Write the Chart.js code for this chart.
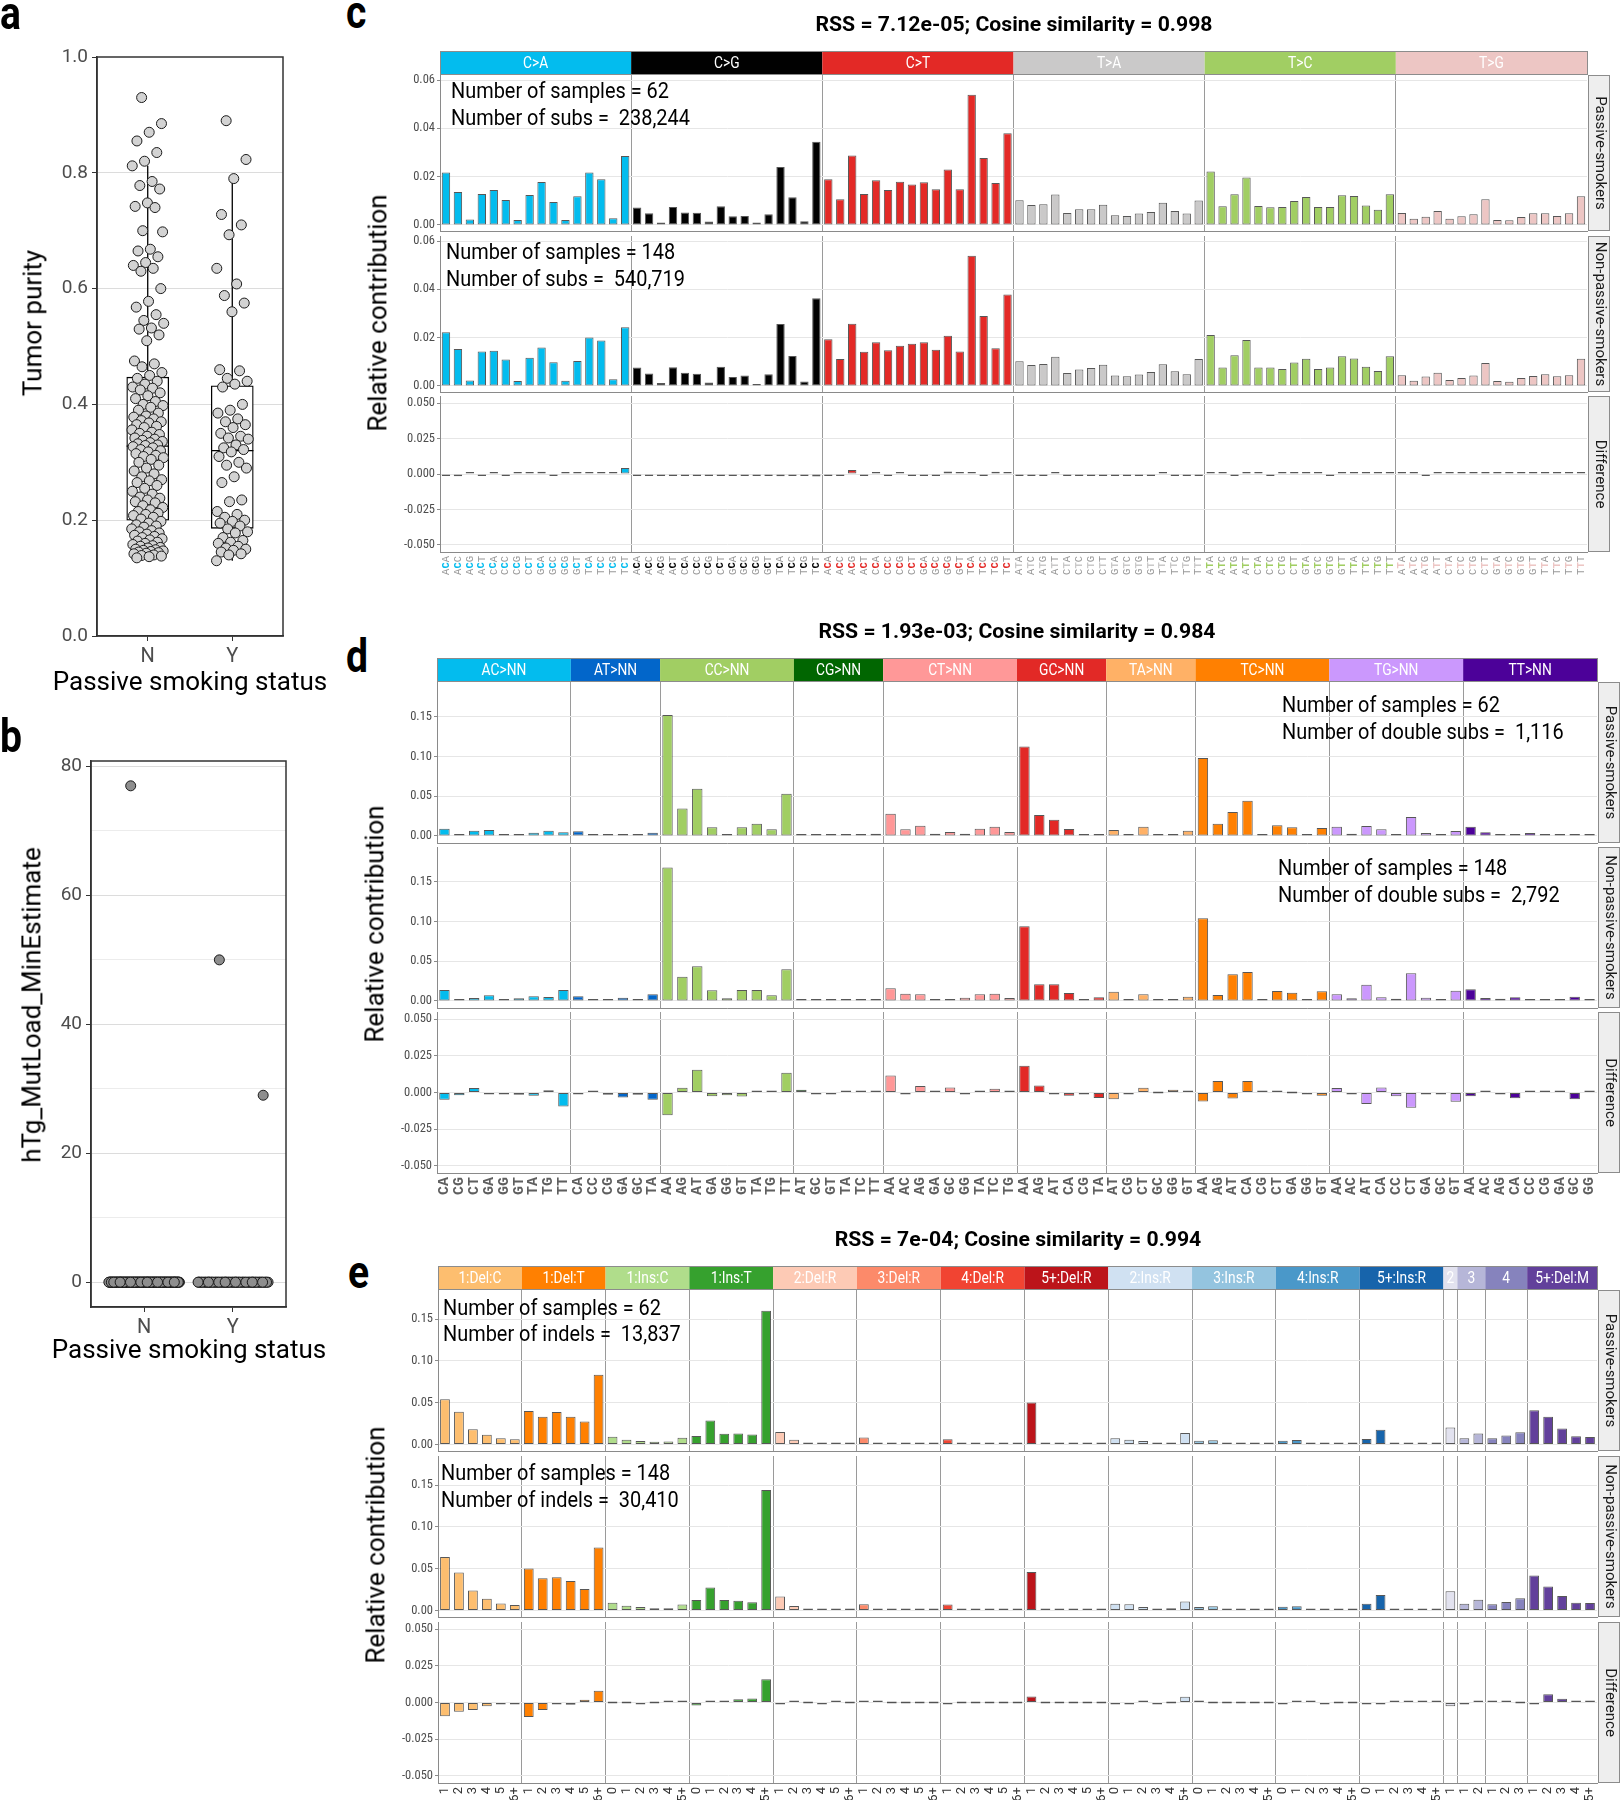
<!DOCTYPE html>
<html>
<head>
<meta charset="utf-8">
<title>Passive smoking – purity, load and mutational profiles</title>
<script src="https://cdn.jsdelivr.net/npm/chart.js@4.4.1/dist/chart.umd.min.js"></script>
<style>
  html, body { margin: 0; padding: 0; background: #fff; overflow: hidden; }
  #page { position: relative; width: 1621px; height: 1800px; overflow: hidden; background: #fff; }
  #page canvas { position: absolute; }
  .t { position: absolute; white-space: pre; line-height: 1.2; color: #000; }
</style>
</head>
<body>
<div id="page"></div>
<script>
// ---------- panel a: tumour purity ----------
const smokingCats = ['N', 'Y'];
const purityN = [
  0.930, 0.885, 0.870, 0.855, 0.835, 0.820, 0.812, 0.785, 0.778, 0.772, 0.748, 0.742, 0.740, 0.700, 0.698, 0.668, 0.665, 0.655, 0.645,
  0.640, 0.635, 0.630, 0.600, 0.578, 0.568, 0.555, 0.545, 0.540, 0.532, 0.530, 0.520, 0.510, 0.475, 0.470, 0.465, 0.455, 0.450,
  0.445, 0.440, 0.435, 0.430, 0.428, 0.425, 0.420, 0.415, 0.410, 0.405, 0.400, 0.398, 0.395, 0.390, 0.385, 0.380, 0.378, 0.375,
  0.372, 0.370, 0.368, 0.365, 0.362, 0.360, 0.356, 0.352, 0.350, 0.348, 0.345, 0.342, 0.340, 0.338, 0.336, 0.334, 0.332, 0.330, 0.329,
  0.327, 0.325, 0.322, 0.320, 0.318, 0.315, 0.312, 0.310, 0.308, 0.305, 0.300, 0.295, 0.290, 0.285, 0.280, 0.275, 0.270, 0.268, 0.265,
  0.260, 0.255, 0.250, 0.245, 0.240, 0.238, 0.235, 0.232, 0.230, 0.225, 0.222, 0.218, 0.215, 0.212, 0.210, 0.208, 0.205, 0.202,
  0.198, 0.195, 0.192, 0.190, 0.188, 0.185, 0.182, 0.180, 0.178, 0.176, 0.174, 0.172, 0.170, 0.168, 0.166, 0.164, 0.162, 0.160, 0.158,
  0.156, 0.155, 0.153, 0.152, 0.150, 0.149, 0.148, 0.147, 0.146, 0.145, 0.144, 0.143, 0.142, 0.140, 0.139, 0.138, 0.137, 0.135
];
const purityY = [
  0.890, 0.823, 0.790, 0.728, 0.710, 0.693, 0.635, 0.608, 0.588, 0.575, 0.560, 0.460, 0.458, 0.445, 0.440,
  0.435, 0.430, 0.400, 0.390, 0.385, 0.375, 0.370, 0.365, 0.360, 0.350, 0.345, 0.342, 0.340, 0.330, 0.325, 0.322,
  0.318, 0.310, 0.300, 0.295, 0.290, 0.275, 0.265, 0.235, 0.232, 0.215, 0.210, 0.205, 0.200, 0.198, 0.195, 0.190,
  0.185, 0.180, 0.178, 0.170, 0.165, 0.162, 0.160, 0.155, 0.152, 0.150, 0.148, 0.145, 0.142, 0.140, 0.130
];
// lower whisker, q1, median, q3, upper whisker
const purityBoxN = [0.135, 0.200, 0.328, 0.447, 0.812];
const purityBoxY = [0.130, 0.186, 0.320, 0.432, 0.790];
const purityTicks = [0, 0.2, 0.4, 0.6, 0.8, 1.0];

// ---------- panel b: hTg mutation load ----------
const mutLoadN = [77,
  0,0,0,0,0,0,0,0,0,0,0,0,0,0,0,0,0,0,0,0,0,
  0,0,0,0,0,0,0,0,0,0,0,0,0,0,0,0,0,0,0,0,0,
  0,0,0,0,0,0,0,0,0,0,0,0,0,0,0,0,0,0,0,0,0,
  0,0,0,0,0,0,0,0,0,0,0,0,0,0,0,0,0,0,0,0,0,
  0,0,0,0,0,0,0,0,0,0,0,0,0,0,0,0,0,0,0,0,0,
  0,0,0,0,0,0,0,0,0,0,0,0,0,0,0,0,0,0,0,0,0,
  0,0,0,0,0,0,0,0,0,0,0,0,0,0,0,0,0,0,0,0,0];
const mutLoadY = [50, 29,
  0,0,0,0,0,0,0,0,0,0,0,0,0,0,0,0,0,0,0,0,
  0,0,0,0,0,0,0,0,0,0,0,0,0,0,0,0,0,0,0,0,
  0,0,0,0,0,0,0,0,0,0,0,0,0,0,0,0,0,0,0,0];
const mutLoadTicks = [0, 10, 20, 30, 40, 50, 60, 70, 80];

// ---------- panel c: SBS96 ----------
const sbsTypes = ['C>A', 'C>G', 'C>T', 'T>A', 'T>C', 'T>G'];
const sbsColors = ['#03BCEE', '#010101', '#E32926', '#CAC9C9', '#A1CE63', '#EDC6C4'];
const sbsCtxC = ['ACA','ACC','ACG','ACT','CCA','CCC','CCG','CCT','GCA','GCC','GCG','GCT','TCA','TCC','TCG','TCT'];
const sbsCtxT = ['ATA','ATC','ATG','ATT','CTA','CTC','CTG','CTT','GTA','GTC','GTG','GTT','TTA','TTC','TTG','TTT'];
const sbsPassive = [
  [0.0217,0.0137,0.0023,0.0128,0.0145,0.0103,0.0021,0.0124,0.0178,0.0095,0.0021,0.0119,0.0217,0.0189,0.0028,0.0286],
  [0.0072,0.0048,0.0010,0.0074,0.0052,0.0051,0.0014,0.0077,0.0036,0.0037,0.0010,0.0044,0.0240,0.0115,0.0015,0.0345],
  [0.0189,0.0106,0.0288,0.0128,0.0185,0.0145,0.0179,0.0168,0.0177,0.0148,0.0230,0.0148,0.0539,0.0277,0.0174,0.0380],
  [0.0102,0.0083,0.0086,0.0126,0.0050,0.0065,0.0065,0.0084,0.0040,0.0037,0.0047,0.0054,0.0092,0.0058,0.0047,0.0101],
  [0.0221,0.0077,0.0127,0.0197,0.0079,0.0073,0.0074,0.0099,0.0116,0.0074,0.0074,0.0123,0.0120,0.0081,0.0063,0.0127],
  [0.0050,0.0026,0.0034,0.0058,0.0026,0.0036,0.0044,0.0106,0.0021,0.0019,0.0033,0.0048,0.0048,0.0037,0.0048,0.0119]
];
const sbsNonPassive = [
  [0.0222,0.0153,0.0023,0.0143,0.0146,0.0110,0.0021,0.0117,0.0159,0.0098,0.0022,0.0103,0.0201,0.0188,0.0028,0.0243],
  [0.0076,0.0052,0.0012,0.0077,0.0055,0.0051,0.0014,0.0080,0.0037,0.0043,0.0008,0.0048,0.0257,0.0124,0.0018,0.0363],
  [0.0193,0.0112,0.0258,0.0142,0.0181,0.0148,0.0167,0.0175,0.0181,0.0150,0.0208,0.0143,0.0539,0.0290,0.0156,0.0379],
  [0.0102,0.0087,0.0091,0.0121,0.0054,0.0068,0.0074,0.0088,0.0043,0.0040,0.0047,0.0058,0.0090,0.0061,0.0048,0.0112],
  [0.0211,0.0076,0.0127,0.0190,0.0076,0.0076,0.0070,0.0097,0.0113,0.0070,0.0076,0.0123,0.0114,0.0080,0.0062,0.0123],
  [0.0044,0.0022,0.0039,0.0055,0.0025,0.0033,0.0043,0.0095,0.0021,0.0017,0.0033,0.0041,0.0048,0.0040,0.0044,0.0113]
];
const sbsDiff = [
  [-0.0002,-0.0015,0.0003,-0.0014,0.0003,-0.0006,0.0001,0.0007,0.0015,-0.0004,0.0001,0.0013,0.0013,0.0002,0.0002,0.0042],
  [-0.0003,-0.0003,-0.0002,-0.0003,-0.0003,-0.0002,-0.0002,-0.0003,-0.0002,-0.0003,-0.0002,-0.0004,-0.0015,-0.0010,-0.0003,-0.0018],
  [-0.0003,-0.0004,0.0028,-0.0014,0.0004,-0.0003,0.0010,-0.0007,-0.0003,-0.0003,0.0018,0.0005,0.0001,-0.0012,0.0016,0.0001],
  [-0.0002,-0.0004,-0.0005,0.0004,-0.0004,-0.0003,-0.0005,-0.0004,-0.0003,-0.0003,-0.0002,-0.0004,0.0002,-0.0003,-0.0002,-0.0011],
  [0.0010,0.0002,-0.0003,0.0005,0.0002,-0.0008,0.0004,0.0003,0.0003,0.0002,-0.0002,0.0002,0.0003,0.0001,0.0001,0.0003],
  [0.0004,0.0003,-0.0004,0.0003,0.0001,0.0002,0.0001,0.0010,0.0001,0.0002,0.0002,0.0004,0.0001,0.0002,0.0004,0.0005]
];
const sbsTicks = [0, 0.02, 0.04, 0.06];
const diffTicks = [-0.05, -0.025, 0, 0.025, 0.05];

// ---------- panel d: DBS78 ----------
const dbsTypes = ['AC>NN','AT>NN','CC>NN','CG>NN','CT>NN','GC>NN','TA>NN','TC>NN','TG>NN','TT>NN'];
const dbsColors = ['#03BCEE','#0266CA','#A1CE63','#016601','#FF9898','#E22926','#FFB166','#FF8001','#CB98FD','#4C0199'];
const dbsCtx = [
  ['CA','CG','CT','GA','GG','GT','TA','TG','TT'],
  ['CA','CC','CG','GA','GC','TA'],
  ['AA','AG','AT','GA','GG','GT','TA','TG','TT'],
  ['AT','GC','GT','TA','TC','TT'],
  ['AA','AC','AG','GA','GC','GG','TA','TC','TG'],
  ['AA','AG','AT','CA','CG','TA'],
  ['AT','CG','CT','GC','GG','GT'],
  ['AA','AG','AT','CA','CG','CT','GA','GG','GT'],
  ['AA','AC','AT','CA','CC','CT','GA','GC','GT'],
  ['AA','AC','AG','CA','CC','CG','GA','GC','GG']
];
const dbsPassive = [
  [0.0092,0.0004,0.0067,0.0075,0.0004,0.0021,0.0042,0.0067,0.0046],
  [0.0059,0.0021,0.0004,0.0013,0.0004,0.0042],
  [0.1520,0.0344,0.0595,0.0109,0.0013,0.0109,0.0155,0.0084,0.0532],
  [0.0021,0.0004,0.0004,0.0013,0.0021,0.0029],
  [0.0281,0.0084,0.0130,0.0029,0.0050,0.0029,0.0092,0.0117,0.0050],
  [0.1123,0.0264,0.0205,0.0088,0.0004,0.0008],
  [0.0075,0.0004,0.0117,0.0004,0.0021,0.0067],
  [0.0980,0.0155,0.0302,0.0444,0.0021,0.0134,0.0109,0.0008,0.0100],
  [0.0117,0.0029,0.0126,0.0084,0.0004,0.0239,0.0038,0.0008,0.0063],
  [0.0117,0.0046,0.0017,0.0008,0.0038,0.0017,0.0025,0.0008,0.0008]
];
const dbsNonPassive = [
  [0.0138,0.0017,0.0038,0.0071,0.0013,0.0034,0.0059,0.0050,0.0138],
  [0.0059,0.0017,0.0017,0.0042,0.0017,0.0084],
  [0.1676,0.0306,0.0436,0.0134,0.0034,0.0138,0.0138,0.0071,0.0398],
  [0.0004,0.0004,0.0004,0.0004,0.0017,0.0021],
  [0.0159,0.0092,0.0084,0.0025,0.0008,0.0042,0.0084,0.0092,0.0038],
  [0.0939,0.0210,0.0210,0.0100,0.0004,0.0046],
  [0.0117,0.0004,0.0084,0.0004,0.0004,0.0054],
  [0.1039,0.0075,0.0335,0.0365,0.0013,0.0126,0.0105,0.0017,0.0121],
  [0.0084,0.0034,0.0205,0.0046,0.0029,0.0348,0.0042,0.0021,0.0130],
  [0.0147,0.0038,0.0029,0.0046,0.0025,0.0004,0.0017,0.0054,0.0004]
];
const dbsDiff = [
  [-0.0050,-0.0018,0.0030,-0.0005,-0.0009,-0.0016,-0.0023,0.0016,-0.0096],
  [-0.0004,0.0004,-0.0016,-0.0034,-0.0016,-0.0050],
  [-0.0156,0.0032,0.0156,-0.0025,-0.0018,-0.0028,0.0014,0.0014,0.0135],
  [0.0018,-0.0005,-0.0005,0.0009,0.0009,0.0009],
  [0.0117,-0.0009,0.0044,0.0004,0.0034,-0.0014,0.0004,0.0025,0.0009],
  [0.0183,0.0048,-0.0005,-0.0023,-0.0002,-0.0037],
  [-0.0046,-0.0009,0.0032,0.0000,0.0018,0.0009],
  [-0.0062,0.0078,-0.0041,0.0078,0.0007,0.0009,0.0000,-0.0005,-0.0023],
  [0.0030,-0.0009,-0.0078,0.0034,-0.0025,-0.0105,-0.0005,-0.0005,-0.0064],
  [-0.0025,0.0009,-0.0011,-0.0039,0.0011,0.0014,0.0009,-0.0046,0.0002]
];
const dbsTicks = [0, 0.05, 0.10, 0.15];

// ---------- panel e: ID83 ----------
const idTypes = ['1:Del:C','1:Del:T','1:Ins:C','1:Ins:T','2:Del:R','3:Del:R','4:Del:R','5+:Del:R',
                 '2:Ins:R','3:Ins:R','4:Ins:R','5+:Ins:R','2','3','4','5+:Del:M'];
const idColors = ['#FDBE6F','#FF8001','#B0DD8B','#36A12E','#FDCAB5','#FC8A6A','#F14432','#BC141A',
                  '#D0E1F2','#94C4DF','#4A98C9','#1764AB','#E2E2EF','#B6B6D8','#8683BD','#62409B'];
const idCtx = [
  ['1','2','3','4','5','6+'], ['1','2','3','4','5','6+'], ['0','1','2','3','4','5+'], ['0','1','2','3','4','5+'],
  ['1','2','3','4','5','6+'], ['1','2','3','4','5','6+'], ['1','2','3','4','5','6+'], ['1','2','3','4','5','6+'],
  ['0','1','2','3','4','5+'], ['0','1','2','3','4','5+'], ['0','1','2','3','4','5+'], ['0','1','2','3','4','5+'],
  ['1'], ['1','2'], ['1','2','3'], ['1','2','3','4','5+']
];
const idPassive = [
  [0.0542,0.0392,0.0181,0.0115,0.0075,0.0062], [0.0401,0.0331,0.0388,0.0331,0.0273,0.0834],
  [0.0093,0.0057,0.0040,0.0031,0.0035,0.0079], [0.0101,0.0287,0.0128,0.0132,0.0119,0.1600],
  [0.0150,0.0057,0.0018,0.0004,0.0004,0.0004], [0.0084,0.0018,0.0009,0.0004,0.0004,0.0004],
  [0.0062,0.0018,0.0013,0.0004,0.0004,0.0004], [0.0503,0.0004,0.0004,0.0004,0.0004,0.0004],
  [0.0075,0.0057,0.0040,0.0018,0.0022,0.0137], [0.0044,0.0049,0.0018,0.0004,0.0004,0.0013],
  [0.0044,0.0053,0.0004,0.0004,0.0004,0.0004], [0.0066,0.0176,0.0013,0.0004,0.0004,0.0004],
  [0.0203], [0.0075,0.0132], [0.0075,0.0106,0.0146], [0.0410,0.0331,0.0190,0.0097,0.0088]
];
const idNonPassive = [
  [0.0640,0.0454,0.0238,0.0141,0.0084,0.0066], [0.0503,0.0384,0.0397,0.0353,0.0256,0.0754],
  [0.0093,0.0057,0.0040,0.0026,0.0026,0.0071], [0.0124,0.0274,0.0124,0.0115,0.0097,0.1443],
  [0.0168,0.0053,0.0018,0.0009,0.0009,0.0009], [0.0075,0.0013,0.0009,0.0009,0.0009,0.0009],
  [0.0071,0.0022,0.0009,0.0009,0.0009,0.0009], [0.0459,0.0009,0.0009,0.0009,0.0009,0.0009],
  [0.0079,0.0075,0.0040,0.0022,0.0026,0.0106], [0.0040,0.0049,0.0018,0.0009,0.0009,0.0009],
  [0.0044,0.0049,0.0009,0.0009,0.0009,0.0009], [0.0079,0.0185,0.0013,0.0009,0.0009,0.0009],
  [0.0229], [0.0079,0.0128], [0.0075,0.0101,0.0146], [0.0419,0.0287,0.0172,0.0093,0.0088]
];
const idDiff = [
  [-0.0094,-0.0063,-0.0051,-0.0025,-0.0003,-0.0003], [-0.0099,-0.0051,-0.0005,-0.0015,0.0018,0.0081],
  [0.0000,0.0000,-0.0002,0.0000,0.0004,0.0004], [-0.0020,0.0013,0.0008,0.0023,0.0028,0.0159],
  [-0.0010,0.0005,0.0000,-0.0002,0.0001,0.0000], [0.0008,0.0005,0.0000,0.0000,0.0000,0.0000],
  [-0.0005,0.0000,0.0000,0.0000,0.0000,0.0000], [0.0041,0.0000,0.0000,0.0000,0.0000,0.0000],
  [-0.0004,-0.0012,0.0001,-0.0002,0.0000,0.0040], [0.0003,0.0000,0.0000,0.0000,0.0000,0.0000],
  [-0.0002,0.0003,0.0001,-0.0003,0.0000,0.0000], [-0.0005,-0.0006,0.0001,0.0001,0.0001,0.0001],
  [-0.0026], [-0.0003,0.0004], [0.0003,0.0003,0.0000], [-0.0003,0.0056,0.0025,0.0003,0.0002]
];
const idTicks = [0, 0.05, 0.10, 0.15];

// ================= drawing =================
const page = document.getElementById('page');
Chart.defaults.font.family = 'Roboto';
const NARROW = '"Liberation Sans Narrow", "Roboto Condensed", "DejaVu Sans Condensed", Roboto, sans-serif';

const mctx = document.createElement('canvas').getContext('2d');
function textWidth(s, font) { mctx.font = font; return mctx.measureText(s).width; }

function mkCanvas(left, top, w, h) {
  const c = document.createElement('canvas');
  c.width = w; c.height = h;
  c.style.left = left + 'px'; c.style.top = top + 'px';
  c.style.width = w + 'px'; c.style.height = h + 'px';
  page.appendChild(c);
  return c;
}

function addText(s, x, yBase, fs, opt = {}) {
  const d = document.createElement('div');
  d.className = 't';
  d.textContent = s;
  d.style.fontFamily = opt.family || 'Roboto';
  d.style.fontSize = fs + 'px';
  d.style.fontWeight = opt.weight || 400;
  if (opt.color) d.style.color = opt.color;
  d.style.left = x + 'px';
  d.style.top = (yBase - 0.9415 * fs) + 'px';
  const sx = opt.sx || 1;
  if (opt.center) {
    d.style.transformOrigin = '50% 50%';
    d.style.transform = `translateX(-50%) scaleX(${sx})`;
  } else {
    d.style.transformOrigin = '0 50%';
    d.style.transform = `scaleX(${sx})`;
  }
  page.appendChild(d);
}

function addRotText(s, cx, cy, fs) {
  const d = document.createElement('div');
  d.className = 't';
  d.textContent = s;
  d.style.fontFamily = 'Roboto';
  d.style.fontSize = fs + 'px';
  d.style.left = cx + 'px';
  d.style.top = cy + 'px';
  d.style.transformOrigin = '50% 50%';
  d.style.transform = 'translate(-50%, -50%) rotate(-90deg)';
  page.appendChild(d);
}

// deterministic horizontal jitter (positions only)
const jit = (i, w) => w * (2 * ((i * 0.6180339887 + 0.31) % 1) - 1);

const framePlugin = {
  id: 'frame',
  afterDraw(chart) {
    const { ctx, chartArea: a } = chart;
    ctx.save();
    ctx.strokeStyle = '#333';
    ctx.lineWidth = 1.5;
    ctx.strokeRect(a.left, a.top, a.right - a.left, a.bottom - a.top);
    ctx.restore();
  }
};

function groupChart(o) {
  const PT = 17, PR = 17, XH = 34, PB = 36;
  const cv = mkCanvas(o.L - o.AX, o.T - PT, o.AX + (o.R - o.L) + PR, PT + (o.B - o.T) + PB);
  const pts = (vals, c) => vals.map((v, i) => ({ x: c + jit(i, o.jw), y: v }));
  const datasets = [
    { type: 'scatter', data: pts(o.vals[0], 1), pointRadius: 5, backgroundColor: o.fill, borderColor: '#1a1a1a', borderWidth: 1 },
    { type: 'scatter', data: pts(o.vals[1], 2), pointRadius: 5, backgroundColor: o.fill, borderColor: '#1a1a1a', borderWidth: 1 }
  ];
  if (o.boxes) {
    const [bN, bY] = o.boxes;
    datasets.push({
      type: 'line', pointRadius: 0, borderColor: '#000', borderWidth: 1.3, spanGaps: false,
      data: [{ x: 0.75, y: bN[2] }, { x: 1.25, y: bN[2] }, { x: 1.5, y: null }, { x: 1.75, y: bY[2] }, { x: 2.25, y: bY[2] }]
    });
    datasets.push({
      type: 'line', pointRadius: 0, borderColor: '#000', borderWidth: 1.3, spanGaps: false,
      data: [{ x: 1, y: bN[3] }, { x: 1, y: bN[4] }, { x: 1, y: null }, { x: 1, y: bN[1] }, { x: 1, y: bN[0] }, { x: 1.5, y: null },
             { x: 2, y: bY[3] }, { x: 2, y: bY[4] }, { x: 2, y: null }, { x: 2, y: bY[1] }, { x: 2, y: bY[0] }]
    });
    datasets.push({
      type: 'bar', data: [{ x: 1, y: [bN[1], bN[3]] }, { x: 2, y: [bY[1], bY[3]] }],
      barThickness: 42, backgroundColor: '#fff', borderColor: '#000', borderWidth: 1.3, borderSkipped: false
    });
  }
  new Chart(cv, {
    type: 'scatter',
    data: { datasets },
    options: {
      responsive: false, animation: false, devicePixelRatio: 1, events: [],
      layout: { padding: { left: 0, top: PT, right: PR, bottom: PB - XH } },
      plugins: { legend: { display: false }, tooltip: { enabled: false } },
      scales: {
        x: {
          type: 'linear', min: 0.4, max: 2.6, offset: false,
          afterBuildTicks: s => { s.ticks = [{ value: 1 }, { value: 2 }]; },
          afterFit: s => { s.height = XH; },
          ticks: { callback: v => smokingCats[v - 1], font: { size: 20 }, color: '#4d4d4d', padding: 4 },
          grid: { offset: false, drawOnChartArea: false, tickLength: 5, tickColor: '#333' },
          border: { color: '#333', width: 1.5 }
        },
        y: {
          min: o.yMin, max: o.yMax,
          afterBuildTicks: s => { s.ticks = o.ticks.map(v => ({ value: v })); },
          afterFit: s => { s.width = o.AX; },
          ticks: { callback: o.fmt, font: { size: 19 }, color: '#4d4d4d', padding: 4 },
          grid: { color: o.gridColor, tickColor: o.tickColor, tickLength: 5 },
          border: { color: '#333', width: 1.5 }
        }
      }
    },
    plugins: [framePlugin]
  });
}

// panel a
groupChart({
  L: 97, T: 57, R: 283, B: 636, AX: 97, jw: 0.19, fill: '#d3d3d3',
  vals: [purityN, purityY], boxes: [purityBoxN, purityBoxY],
  yMin: 0, yMax: 1, ticks: purityTicks, fmt: v => v.toFixed(1),
  gridColor: c => (c.tick && c.tick.value > 0 && c.tick.value < 1) ? '#dcdcdc' : 'rgba(0,0,0,0)',
  tickColor: '#333'
});
// panel b
groupChart({
  L: 91, T: 761, R: 286, B: 1307, AX: 91, jw: 0.4, fill: '#8e8e8e',
  vals: [mutLoadN, mutLoadY], boxes: null,
  yMin: -3.85, yMax: 80.85, ticks: mutLoadTicks, fmt: v => (v % 20 === 0 ? String(v) : ''),
  gridColor: c => (c.tick && c.tick.value % 20 === 0) ? '#dcdcdc' : '#ececec',
  tickColor: c => (c.tick && c.tick.value % 20 === 0) ? '#333' : 'rgba(0,0,0,0)'
});

// ---------- profile rows ----------
function profileRow(p) {
  const AX = 60, PR = 30;
  const PT = p.strip ? 40 : 16, PB = p.xlab ? 40 : 16;
  const cv = mkCanvas(p.L - AX, p.T - PT, AX + (p.R - p.L) + PR, PT + (p.B - p.T) + PB);
  const labels = p.groups.flat();
  const starts = []; let acc = 0;
  p.groups.forEach(g => { starts.push(acc); acc += g.length; });
  const bounds = new Set(starts.slice(1));
  const barColors = [];
  p.groups.forEach((g, gi) => g.forEach(() => barColors.push(p.colors[gi])));

  const decor = {
    id: 'decor',
    afterDraw(chart) {
      const ctx = chart.ctx, a = chart.chartArea, x = chart.scales.x;
      const half = (x.getPixelForValue(1) - x.getPixelForValue(0)) / 2;
      ctx.save();
      if (p.strip) {
        p.groups.forEach((g, gi) => {
          const x0 = x.getPixelForValue(starts[gi]) - half;
          const x1 = x.getPixelForValue(starts[gi] + g.length - 1) + half;
          ctx.fillStyle = p.colors[gi];
          ctx.fillRect(x0, a.top - 23, x1 - x0, 23);
          ctx.save();
          ctx.translate((x0 + x1) / 2, a.top - 11);
          ctx.scale(0.86, 1);
          ctx.font = '16px Roboto';
          ctx.fillStyle = '#fff';
          ctx.textAlign = 'center';
          ctx.textBaseline = 'middle';
          ctx.fillText(p.names[gi], 0, 0);
          ctx.restore();
        });
        ctx.strokeStyle = '#8c8c8c';
        ctx.lineWidth = 1;
        ctx.strokeRect(a.left + 0.5, a.top - 23.5, a.right - a.left, 23);
      }
      // facet label on the right
      ctx.fillStyle = '#eeeeee';
      ctx.fillRect(a.right + 1, a.top, 22, a.bottom - a.top);
      ctx.strokeStyle = '#8c8c8c';
      ctx.lineWidth = 1;
      ctx.strokeRect(a.right + 1.5, a.top + 0.5, 21, a.bottom - a.top - 1);
      ctx.save();
      ctx.translate(a.right + 12.5, (a.top + a.bottom) / 2);
      ctx.rotate(Math.PI / 2);
      ctx.font = '15px Roboto';
      ctx.fillStyle = '#1a1a1a';
      ctx.textAlign = 'center';
      ctx.textBaseline = 'middle';
      ctx.fillText(p.facet, 0, 0);
      ctx.restore();
      // category labels under the last row
      if (p.xlab) {
        let i = 0;
        p.groups.forEach((g, gi) => g.forEach(lab => {
          ctx.save();
          ctx.translate(x.getPixelForValue(i), a.bottom + 4);
          ctx.rotate(-Math.PI / 2);
          ctx.textBaseline = 'middle';
          if (p.xlab === 'sbs') {
            ctx.font = '10.5px "Liberation Mono", monospace';
            const w = ctx.measureText('A').width;
            ctx.textAlign = 'left';
            for (let k = 0; k < lab.length; k++) {
              const mid = k === 1;
              ctx.font = (mid ? 'bold ' : '') + '10.5px "Liberation Mono", monospace';
              ctx.fillStyle = mid ? p.colors[gi] : '#9a9a9a';
              ctx.fillText(lab[k], -lab.length * w + k * w, 0);
            }
          } else {
            ctx.textAlign = 'right';
            ctx.font = p.xlabFont;
            ctx.fillStyle = p.xlabColor;
            ctx.fillText(lab, 0, 0);
          }
          ctx.restore();
          i++;
        }));
      }
      ctx.restore();
    }
  };

  new Chart(cv, {
    type: 'bar',
    data: {
      labels,
      datasets: [{
        data: p.vals, backgroundColor: barColors, borderColor: 'rgba(45,45,45,0.8)', borderWidth: 1,
        borderSkipped: false, barPercentage: 0.7, categoryPercentage: 1, minBarLength: 2
      }]
    },
    options: {
      responsive: false, animation: false, devicePixelRatio: 1, events: [],
      layout: { padding: { left: 0, top: PT, right: PR, bottom: PB } },
      plugins: { legend: { display: false }, tooltip: { enabled: false } },
      scales: {
        x: {
          type: 'category', offset: true,
          grid: { offset: true, drawTicks: false, lineWidth: 1, color: c => bounds.has(c.index) ? '#9a9a9a' : 'rgba(0,0,0,0)' },
          ticks: { display: false },
          border: { color: '#8a8a8a', width: 1 },
          afterFit: s => { s.height = 0; }
        },
        y: {
          min: p.yMin, max: p.yMax,
          afterBuildTicks: s => { s.ticks = p.ticks.map(v => ({ value: v })); },
          afterFit: s => { s.width = AX; },
          ticks: { callback: v => v.toFixed(p.dec), font: { family: NARROW, size: 12.5 }, color: '#4d4d4d', padding: 2 },
          grid: { color: '#e6e6e6', tickColor: '#8a8a8a', tickLength: 3 },
          border: { color: '#8a8a8a', width: 1 }
        }
      }
    },
    plugins: [decor]
  });
}

function profilePanel(panel, rows) {
  rows.forEach(r => profileRow(Object.assign({}, panel, r)));
}

profilePanel(
  { L: 440, R: 1587, groups: [sbsCtxC, sbsCtxC, sbsCtxC, sbsCtxT, sbsCtxT, sbsCtxT], names: sbsTypes, colors: sbsColors },
  [
    { T: 75, B: 231, vals: sbsPassive.flat(), yMin: -0.0025, yMax: 0.0621, ticks: sbsTicks, dec: 2, facet: 'Passive-smokers', strip: true },
    { T: 236, B: 392, vals: sbsNonPassive.flat(), yMin: -0.0025, yMax: 0.0621, ticks: sbsTicks, dec: 2, facet: 'Non-passive-smokers' },
    { T: 396, B: 552, vals: sbsDiff.flat(), yMin: -0.055, yMax: 0.055, ticks: diffTicks, dec: 3, facet: 'Difference', xlab: 'sbs' }
  ]
);
profilePanel(
  { L: 437, R: 1597, groups: dbsCtx, names: dbsTypes, colors: dbsColors,
    xlabFont: 'bold 15px "Liberation Mono", monospace', xlabColor: '#5f5f5f' },
  [
    { T: 682, B: 843, vals: dbsPassive.flat(), yMin: -0.0088, yMax: 0.1935, ticks: dbsTicks, dec: 2, facet: 'Passive-smokers', strip: true },
    { T: 847, B: 1008, vals: dbsNonPassive.flat(), yMin: -0.0088, yMax: 0.1935, ticks: dbsTicks, dec: 2, facet: 'Non-passive-smokers' },
    { T: 1012, B: 1173, vals: dbsDiff.flat(), yMin: -0.055, yMax: 0.055, ticks: diffTicks, dec: 3, facet: 'Difference', xlab: 'dbs' }
  ]
);
profilePanel(
  { L: 438, R: 1597, groups: idCtx, names: idTypes, colors: idColors,
    xlabFont: '13px Roboto', xlabColor: '#333' },
  [
    { T: 1290, B: 1451, vals: idPassive.flat(), yMin: -0.0079, yMax: 0.185, ticks: idTicks, dec: 2, facet: 'Passive-smokers', strip: true },
    { T: 1456, B: 1617, vals: idNonPassive.flat(), yMin: -0.0079, yMax: 0.185, ticks: idTicks, dec: 2, facet: 'Non-passive-smokers' },
    { T: 1622, B: 1783, vals: idDiff.flat(), yMin: -0.055, yMax: 0.055, ticks: diffTicks, dec: 3, facet: 'Difference', xlab: 'id' }
  ]
);

// ---------- text ----------
const annFont = '22px Roboto';
const fA = 218 / textWidth('Number of samples = 62', annFont);
const fT = 397 / textWidth('RSS = 7.12e-05; Cosine similarity = 0.998', 'bold 20px Roboto');

// panel letters
addText('a', 0, 29, 46, { weight: 700, sx: 0.85 });
addText('b', 0, 752, 46, { weight: 700, sx: 0.85 });
addText('c', 346, 28, 46, { weight: 700, sx: 0.85 });
addText('d', 346, 672, 46, { weight: 700, sx: 0.85 });
addText('e', 348, 1288, 46, { weight: 700, sx: 0.85 });

// axis titles
addRotText('Tumor purity', 33, 323, 26);
addText('Passive smoking status', 190, 690, 26, { center: true });
addRotText('hTg_MutLoad_MinEstimate', 32, 1005, 26);
addText('Passive smoking status', 189, 1358, 26, { center: true });
addRotText('Relative contribution', 378, 313, 26);
addRotText('Relative contribution', 375, 924, 26);
addRotText('Relative contribution', 376, 1545, 26);

// panel titles
addText('RSS = 7.12e-05; Cosine similarity = 0.998', 1013.5, 30.7, 20, { weight: 700, center: true, sx: fT });
addText('RSS = 1.93e-03; Cosine similarity = 0.984', 1017, 638, 20, { weight: 700, center: true, sx: fT });
addText('RSS = 7e-04; Cosine similarity = 0.994', 1017.5, 1246, 20, { weight: 700, center: true, sx: fT });

// sample annotations
const ann = [
  ['Number of samples = 62', 450.7, 98.3], ['Number of subs =  238,244', 450.7, 125.7],
  ['Number of samples = 148', 446.3, 259.3], ['Number of subs =  540,719', 446.3, 286.7],
  ['Number of samples = 62', 1282.4, 712.3], ['Number of double subs =  1,116', 1282.4, 739.3],
  ['Number of samples = 148', 1278, 876], ['Number of double subs =  2,792', 1278, 902.7],
  ['Number of samples = 62', 442.7, 1315.5], ['Number of indels =  13,837', 442.7, 1342.1],
  ['Number of samples = 148', 441.3, 1480.8], ['Number of indels =  30,410', 441.3, 1507.8]
];
ann.forEach(([s, x, y]) => addText(s, x, y, 22, { sx: fA }));
</script>
</body>
</html>
